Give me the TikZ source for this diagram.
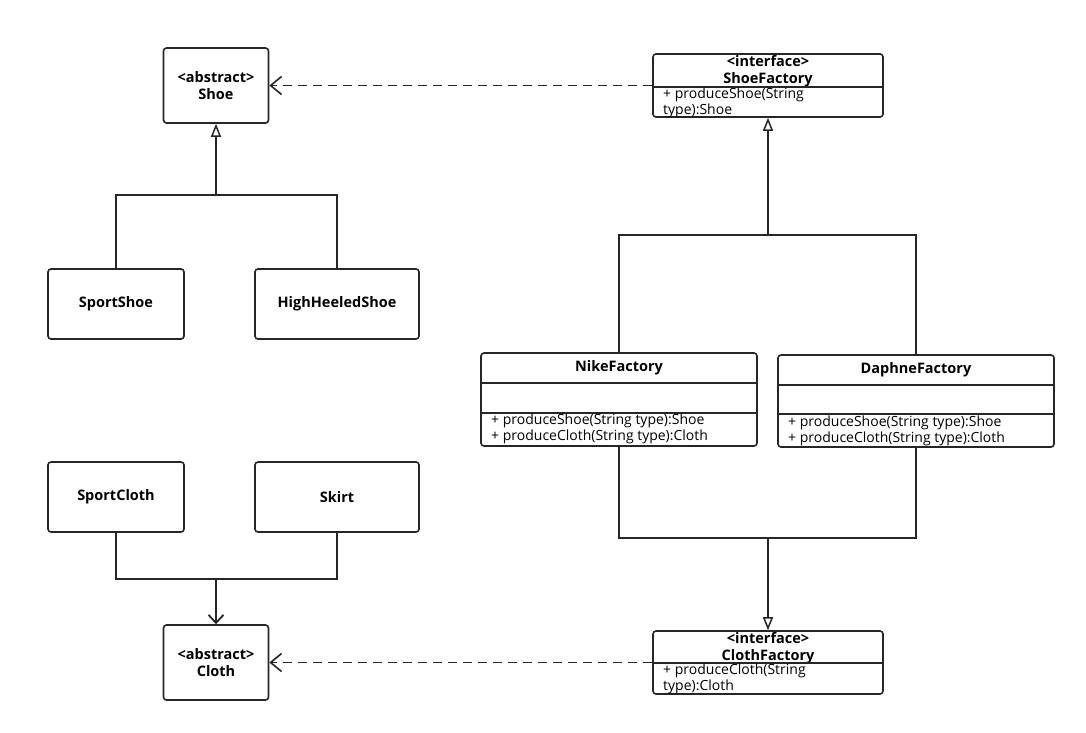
\documentclass[tikz,border=0pt]{standalone}
\usepackage{fontspec}
\setmainfont{Open Sans}
\usetikzlibrary{arrows.meta,calc}
\begin{document}
\begin{tikzpicture}[x=1pt,y=-1pt,
  box/.style={draw=black!85,line width=1.6pt,rounded corners=3pt,fill=white,inner sep=0pt,align=center,font=\fontsize{14.5}{17}\selectfont\bfseries},
  title/.style={inner sep=0pt,font=\fontsize{14.5}{16.5}\selectfont\bfseries,align=center},
  meth/.style={inner sep=0pt,anchor=west,font=\fontsize{14}{16}\selectfont,align=left},
  sep/.style={draw=black!85,line width=1.6pt},
  conn/.style={draw=black!85,line width=1.8pt},
  inh/.style={conn,-{Triangle[open,length=13pt,width=10pt,line width=1.5pt]}},
  asc/.style={conn,-{Straight Barb[length=8pt,width=15pt,line width=1.8pt]}},
  dep/.style={conn,line width=1.6pt,dash pattern=on 9pt off 6pt,-{Straight Barb[length=11pt,width=18pt,line width=1.6pt]}}]
\fill[white] (0,0) rectangle (1086,732);
\useasboundingbox (0,0) rectangle (1086,732);
% left boxes
\node[box,minimum width=105pt,minimum height=75pt] (shoe) at (216,85.5) {<abstract>\\Shoe};
\node[box,minimum width=136pt,minimum height=70pt] (sportshoe) at (116,304) {SportShoe};
\node[box,minimum width=164pt,minimum height=70pt] (high) at (337,304) {HighHeeledShoe};
\node[box,minimum width=136pt,minimum height=70pt] (sportcloth) at (116,497) {SportCloth};
\node[box,minimum width=164pt,minimum height=70pt] (skirt) at (337,497) {Skirt};
\node[box,minimum width=105pt,minimum height=75pt] (cloth) at (216,662.5) {<abstract>\\Cloth};
% ShoeFactory
\node[box,minimum width=230pt,minimum height=63pt] (sf) at (768,85.5) {};
\node[title] (sft) at (768,71) {<interface>\\ShoeFactory};
\draw[sep] (653,87) -- (883,87);
\node[meth] (sfm) at (663,102.5) {+ produceShoe(String\\type):Shoe};
% ClothFactory
\node[box,minimum width=230pt,minimum height=63pt] (cf) at (768,662.5) {};
\node[title] (cft) at (768,648) {<interface>\\ClothFactory};
\draw[sep] (653,663) -- (883,663);
\node[meth] (cfm) at (663,679) {+ produceCloth(String\\type):Cloth};
% NikeFactory
\node[box,minimum width=276pt,minimum height=93pt] (nike) at (619,399.5) {};
\node[title] (nt) at (619,368) {NikeFactory};
\draw[sep] (481,383) -- (757,383);
\draw[sep] (481,413) -- (757,413);
\node[meth] (nm) at (491,429) {+ produceShoe(String type):Shoe\\+ produceCloth(String type):Cloth};
% DaphneFactory
\node[box,minimum width=276pt,minimum height=92pt] (daphne) at (916,401) {};
\node[title] (dt) at (916,369.5) {DaphneFactory};
\draw[sep] (778,385) -- (1054,385);
\draw[sep] (778,414) -- (1054,414);
\node[meth] (dm) at (788,431) {+ produceShoe(String type):Shoe\\+ produceCloth(String type):Cloth};
% connectors left
\coordinate (j1) at (216,196);
\draw[conn] (sportshoe.north) -- ++(0,-73) -| (high.north);
\draw[inh] (j1) -- (shoe.south);
\coordinate (j2) at (216,578);
\draw[conn] (sportcloth.south) -- ++(0,46) -| (skirt.south);
\draw[asc] (j2) -- (cloth.north);
% connectors right
\coordinate (j3) at (768,236);
\draw[conn] (nike.north) -- ++(0,-117) -| (daphne.north);
\draw[inh] (j3) -- (sf.south);
\coordinate (j4) at (768,537);
\draw[conn] (nike.south) -- ++(0,91) -| (daphne.south);
\draw[inh] (j4) -- (cf.north);
% dependencies
\draw[dep] (sf.west) -- (shoe.east);
\draw[dep] (cf.west) -- (cloth.east);
\end{tikzpicture}
\end{document}
